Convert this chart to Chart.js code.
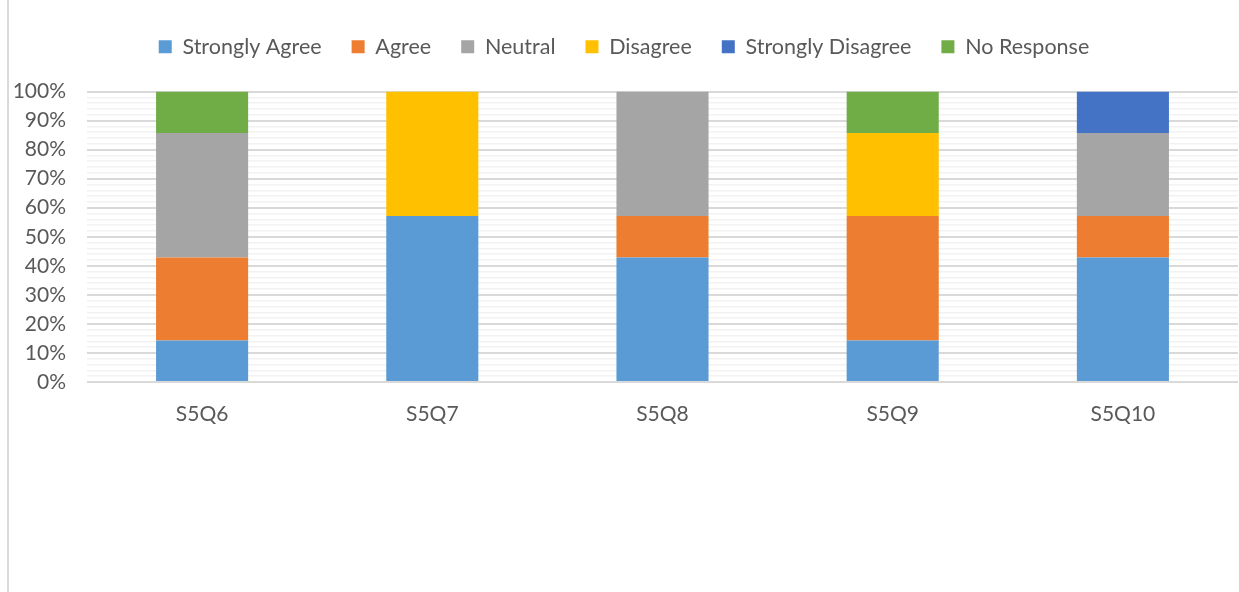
<!DOCTYPE html>
<html lang="en">
<head>
    <meta charset="UTF-8">
    <title>S5 Responses</title>
    <style>
        html, body { margin: 0; padding: 0; background: #fff; }
        .frame {
            position: absolute; left: 7px; top: 0;
            width: 1232px; height: 592px;
            border-left: 2px solid #d9d9d9;
        }
        #chart { position: absolute; left: 0; top: 0; }
    </style>
</head>
<body>
<div class="frame"></div>
<canvas id="chart" width="1239" height="592"></canvas>

<script src="https://cdn.jsdelivr.net/npm/chart.js"></script>
<script>
// Categories and response shares (%) (n = 7 per question)
const questions = ['S5Q6', 'S5Q7', 'S5Q8', 'S5Q9', 'S5Q10'];
const stronglyAgree    = [14.29, 57.14, 42.86, 14.29, 42.86];
const agree            = [28.57, 0,     14.29, 42.86, 14.29];
const neutral          = [42.86, 0,     42.86, 0,     28.57];
const disagree         = [0,     42.86, 0,     28.57, 0];
const stronglyDisagree = [0,     0,     0,     0,     14.29];
const noResponse       = [14.29, 0,     0,     14.29, 0];

const yMajorTicks = [0, 10, 20, 30, 40, 50, 60, 70, 80, 90, 100];

const series = [
    { label: 'Strongly Agree',    data: stronglyAgree,    color: '#5B9BD5' },
    { label: 'Agree',             data: agree,            color: '#ED7D31' },
    { label: 'Neutral',           data: neutral,          color: '#A5A5A5' },
    { label: 'Disagree',          data: disagree,         color: '#FFC000' },
    { label: 'Strongly Disagree', data: stronglyDisagree, color: '#4472C4' },
    { label: 'No Response',       data: noResponse,       color: '#70AD47' }
];

Chart.defaults.font.family = 'Lato, "Open Sans", sans-serif';
Chart.defaults.color = '#595959';

// push the plot down a bit below the legend
const legendGap = {
    id: 'legendGap',
    beforeInit(chart) {
        const fit = chart.legend.fit;
        chart.legend.fit = function () {
            fit.bind(chart.legend)();
            this.height += 24;
        };
    }
};

const ctx = document.getElementById('chart').getContext('2d');
new Chart(ctx, {
    type: 'bar',
    data: {
        labels: questions,
        datasets: series.map(s => ({
            label: s.label,
            data: s.data,
            backgroundColor: s.color,
            borderWidth: 0,
            barPercentage: 0.4,
            categoryPercentage: 1
        }))
    },
    options: {
        responsive: false,
        animation: false,
        layout: { padding: { left: 10, right: 1, top: 6, bottom: 160 } },
        plugins: {
            tooltip: { enabled: false },
            legend: {
                position: 'top',
                labels: {
                    boxWidth: 13,
                    boxHeight: 13,
                    padding: 30,
                    font: { size: 21.5 }
                }
            }
        },
        scales: {
            x: {
                stacked: true,
                grid: { display: false },
                border: { display: false },
                ticks: { font: { size: 21 }, padding: 12 },
                afterFit: scale => { scale.height = 50; }
            },
            y: {
                stacked: true,
                min: 0,
                max: 100,
                border: { display: false },
                grid: {
                    drawTicks: false,
                    color: c => yMajorTicks.includes(c.tick.value) ? '#d9d9d9' : '#f2f2f2',
                    lineWidth: c => yMajorTicks.includes(c.tick.value) ? 2 : 1.5
                },
                ticks: {
                    stepSize: 2,
                    autoSkip: false,
                    padding: 21,
                    font: { size: 21 },
                    callback: v => yMajorTicks.includes(v) ? v + '%' : ''
                },
                afterFit: scale => { scale.width = 77; }
            }
        }
    },
    plugins: [legendGap]
});
</script>
</body>
</html>
